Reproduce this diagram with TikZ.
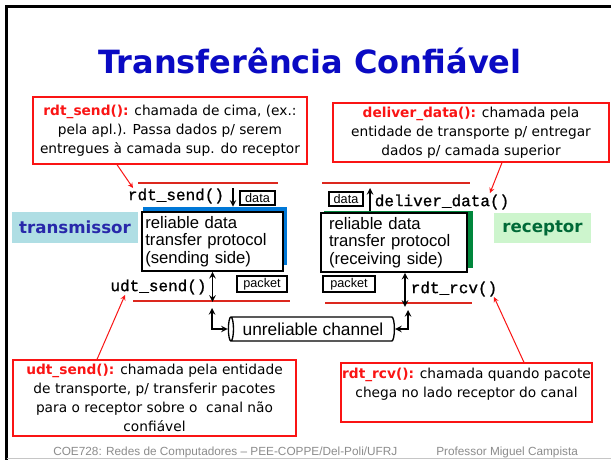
\documentclass[tikz,border=0pt]{standalone}
\usepackage{fontspec}
\setmainfont{DejaVu Sans}
\setmonofont{Liberation Mono}[FakeBold=0.9]
\newfontfamily\arialfont{Liberation Sans}
\usetikzlibrary{arrows}
\usetikzlibrary{shapes.geometric, positioning, calc}
\usepackage{xcolor}

\definecolor{titleblue}{RGB}{10,10,195}
\definecolor{notered}{RGB}{250,20,20}
\definecolor{wirered}{RGB}{220,40,30}
\definecolor{sndblue}{RGB}{0,120,215}
\definecolor{rcvgreen}{RGB}{0,135,60}
\definecolor{sndbg}{RGB}{175,222,228}
\definecolor{sndtext}{RGB}{40,40,170}
\definecolor{rcvbg}{RGB}{205,245,205}
\definecolor{rcvtext}{RGB}{0,105,55}
\definecolor{footgray}{RGB}{140,140,140}

\newcommand{\callname}[1]{{\bfseries\color{notered}#1}}

\begin{document}
\begin{tikzpicture}[x=0.75pt, y=-0.75pt,
    note/.style={draw=notered, line width=1pt, align=center, inner sep=0pt,
      font=\fontsize{10.3}{14.25}\selectfont},
    proto/.style={draw=black, line width=1.2pt, fill=white, align=left,
      font=\arialfont\fontsize{12.5}{13}\selectfont},
    tag/.style={draw=black, line width=1pt, inner sep=0pt,
      font=\arialfont\fontsize{9.5}{10}\selectfont},
    func/.style={inner sep=0pt, font=\ttfamily\fontsize{12}{12}\selectfont},
    side/.style={inner sep=0pt, font=\bfseries\fontsize{12.5}{13}\selectfont},
    wire/.style={wirered, line width=1.5pt},
    flow/.style={line width=1.2pt, >=stealth},
    callarrow/.style={->, >=stealth, notered, line width=0.75pt},
    footer/.style={anchor=west, inner sep=0pt, text=footgray,
      font=\arialfont\fontsize{8.85}{9}\selectfont}]

      \useasboundingbox (0,0) rectangle (611,460);
      \fill[white] (0,0) rectangle (611,460);

      % slide frame
      \draw[line width=2.4pt] (6.5,460) -- (6.5,6.5) -- (611,6.5);
      \draw[footgray!50, line width=0.75pt] (6.5,458.5) -- (611,458.5);

      \node[inner sep=0pt, text=titleblue, font=\bfseries\fontsize{24}{24}\selectfont] (title) at (310,61) {Transferência Confiável};

      % callouts
      \node[note, minimum width=205.5pt, minimum height=50.25pt] (sendnote) at (170,130.5)
        {\callname{rdt\_send():} chamada de cima, (ex.:\\ pela apl.). Passa dados p/ serem\\ entregues à camada sup. do receptor};
      \node[note, minimum width=207pt, minimum height=44.25pt] (delivnote) at (471,132.5)
        {\callname{deliver\_data():} chamada pela\\ entidade de transporte p/ entregar\\ dados p/ camada superior};
      \node[note, minimum width=212.25pt, minimum height=57pt] (udtnote) at (154.5,398)
        {\callname{udt\_send():} chamada pela entidade\\ de transporte, p/ transferir pacotes\\ para o receptor sobre o\ \ canal não\\ confiável};
      \node[note, minimum width=188.25pt, minimum height=44.25pt] (rcvnote) at (466.5,392.5)
        {\callname{rdt\_rcv():} chamada quando pacote\\ chega no lado receptor do canal\\ \mbox{}};

      % sides
      \node[side, fill=sndbg, text=sndtext, minimum width=94.5pt, minimum height=23.25pt] (sndlabel) at (75,227.5) {transmissor};
      \node[side, fill=rcvbg, text=rcvtext, minimum width=72.75pt, minimum height=22.5pt] (rcvlabel) at (542.5,228) {receptor};

      % layer lines
      \draw[wire] (138,183) -- (278,183);
      \draw[wire] (322,183) -- (470,183);
      \draw[wire] (133,301) -- (290,301);
      \draw[wire] (325,303) -- (472,303);

      % protocol boxes
      \node[fill=sndblue, minimum width=108pt, minimum height=43.5pt, inner sep=0pt] (sndshadow) at (215,236) {};
      \node[proto, minimum width=105.75pt, minimum height=42.75pt, text width=100.75pt, inner xsep=2.5pt] (snd) at (212.5,241.5)
        {reliable data\\ transfer protocol\\ (sending side)};
      \node[fill=rcvgreen, minimum width=111.75pt, minimum height=42.75pt, inner sep=0pt] (rcvshadow) at (398.5,239.5) {};
      \node[proto, minimum width=109.5pt, minimum height=41.25pt, text width=97.5pt, inner xsep=6pt] (rcv) at (394,242.5)
        {reliable data\\ transfer protocol\\ (receiving side)};

      \node[func] (rdtsend) at (176,196) {rdt\_send()};
      \node[func] (delivdata) at (442,202) {deliver\_data()};
      \node[func] (udtsend) at (158.5,287) {udt\_send()};
      \node[func] (rdtrcv) at (454,289) {rdt\_rcv()};

      \node[tag, minimum width=26.25pt, minimum height=10.5pt] (snddata) at (257.5,198) {data};
      \node[tag, minimum width=37.5pt, minimum height=12pt] (sndpkt) at (262,284) {packet};
      \node[tag, minimum width=25.5pt, minimum height=10.5pt] (rcvdata) at (346,199) {data};
      \node[tag, minimum width=39pt, minimum height=12pt] (rcvpkt) at (349,284) {packet};

      \node[cylinder, shape border rotate=180, draw, line width=1pt, aspect=0.4,
        minimum height=124.5pt, minimum width=18pt, inner sep=0pt,
        font=\arialfont\fontsize{13}{13}\selectfont] (chan) at (313,329) {unreliable channel};

      \coordinate (sndin) at (233,188);
      \coordinate (rcvout) at (370,188);
      \coordinate (sndlink) at (212,308);
      \coordinate (rcvlink) at (408,310);

      \draw[flow, ->] (sndin) -- (sndin |- sndshadow.north);
      \draw[flow, ->] (rcvout |- rcvshadow.north) -- (rcvout);
      \draw[flow, <->] (snd.south) -- ++(0,30);
      \draw[flow, <->] ([xshift=8.25pt]rcv.south) -- ++(0,34);
      \draw[flow, <->] (sndlink) |- (chan.west);
      \draw[flow, <->] (chan.east) -| (rcvlink);

      \coordinate (sendtip) at (133,188);
      \coordinate (delivtip) at (490,193);
      \coordinate (udttip) at (125,295);
      \coordinate (rcvtip) at (494,297);

      \draw[callarrow] ([xshift=-39.75pt]sendnote.south) -- (sendtip);
      \draw[callarrow] ([xshift=23.25pt]delivnote.south) -- (delivtip);
      \draw[callarrow] ([xshift=-43.1pt]udtnote.north) -- (udttip);
      \draw[callarrow] ([xshift=43.1pt]rcvnote.north) -- (rcvtip);

      \node[footer] (course) at (53,452) {COE728: Redes de Computadores – PEE-COPPE/Del-Poli/UFRJ};
      \node[footer] (prof) at (436,452) {Professor Miguel Campista};

    \end{tikzpicture}
\end{document}
